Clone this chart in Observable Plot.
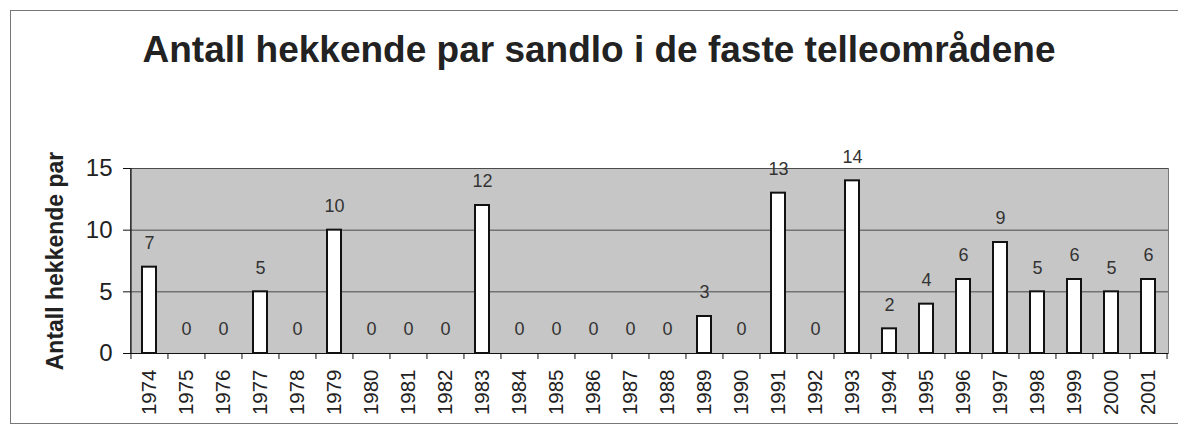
<!DOCTYPE html>
<html>
<head>
<meta charset="utf-8">
<script src="https://cdn.jsdelivr.net/npm/d3@7"></script>
<script src="https://cdn.jsdelivr.net/npm/@observablehq/plot@0.6"></script>
<style>
  html, body { margin: 0; padding: 0; background: #fff; overflow: hidden; }
  #wrap { position: relative; width: 1178px; height: 432px; overflow: hidden; font-family: "Liberation Sans", Arial, sans-serif; }
  #border { position: absolute; left: 10px; top: 10px; width: 1200px; height: 414px; border: 1.5px solid #777; box-sizing: border-box; }
  #title { position: absolute; left: 0; top: 31px; width: 1198px; text-align: center; font-size: 37px; line-height: 37px; font-weight: bold; color: #222; }
  #chart { position: absolute; left: 0; top: 90px; }
</style>
</head>
<body>
<div id="wrap">
  <div id="border"></div>
  <div id="title">Antall hekkende par sandlo i de faste telleområdene</div>
  <div id="chart"></div>
</div>
<script>
const years = ["1974","1975","1976","1977","1978","1979","1980","1981","1982","1983","1984","1985","1986","1987","1988","1989","1990","1991","1992","1993","1994","1995","1996","1997","1998","1999","2000","2001"];
const pairs = [7,0,0,5,0,10,0,0,0,12,0,0,0,0,0,3,0,13,0,14,2,4,6,9,5,6,5,6];
const yTicks = [0,5,10,15];
const gridValues = [5,10,15];
const yLabel = "Antall hekkende par";

const data = years.map((y, i) => ({year: y, value: pairs[i]}));

const width = 1178, height = 342;
const marginLeft = 130, marginRight = 10, marginTop = 78, marginBottom = 79;
const step = (width - marginLeft - marginRight) / years.length;
const font = "Liberation Sans, Arial, sans-serif";

const chart = Plot.plot({
  width, height, marginLeft, marginRight, marginTop, marginBottom,
  style: {fontFamily: font, color: "#222", background: "transparent", overflow: "visible"},
  x: {domain: years, paddingInner: 0.62, paddingOuter: 0.31, label: null},
  y: {domain: [0, 15], label: null},
  marks: [
    Plot.frame({fill: "#c6c6c6", stroke: "#777", strokeWidth: 1}),
    Plot.ruleY(gridValues, {stroke: "#4a4a4a", strokeWidth: 1}),
    Plot.ruleY([0], {stroke: "#111", strokeWidth: 1.2}),
    Plot.ruleX([years[0]], {dx: -step / 2, stroke: "#111", strokeWidth: 1.2}),
    Plot.barY(data, {x: "year", y: "value", fill: "#fff", stroke: "#111", strokeWidth: 2}),
    Plot.text(data, {x: "year", y: "value", text: d => String(d.value), dy: -24, fontSize: 18, fill: "#333"}),
    Plot.axisY({ticks: yTicks, tickSize: 7, tickPadding: 11, fontSize: 24, label: null, stroke: "#111"}),
    Plot.axisX({ticks: years, tickSize: 0, tickPadding: 16, tickRotate: -90, fontSize: 20.5, label: null}),
    Plot.axisX({ticks: years, tickSize: 6, text: null, label: null, dx: -step / 2, stroke: "#111"}),
    Plot.axisX({ticks: [years[years.length - 1]], tickSize: 6, text: null, label: null, dx: step / 2, stroke: "#111"}),
    Plot.text([yLabel], {frameAnchor: "left", textAnchor: "middle", rotate: -90, dx: -75, fontSize: 23, fontWeight: "bold", fill: "#222"})
  ]
});
document.getElementById("chart").appendChild(chart);
</script>
</body>
</html>
